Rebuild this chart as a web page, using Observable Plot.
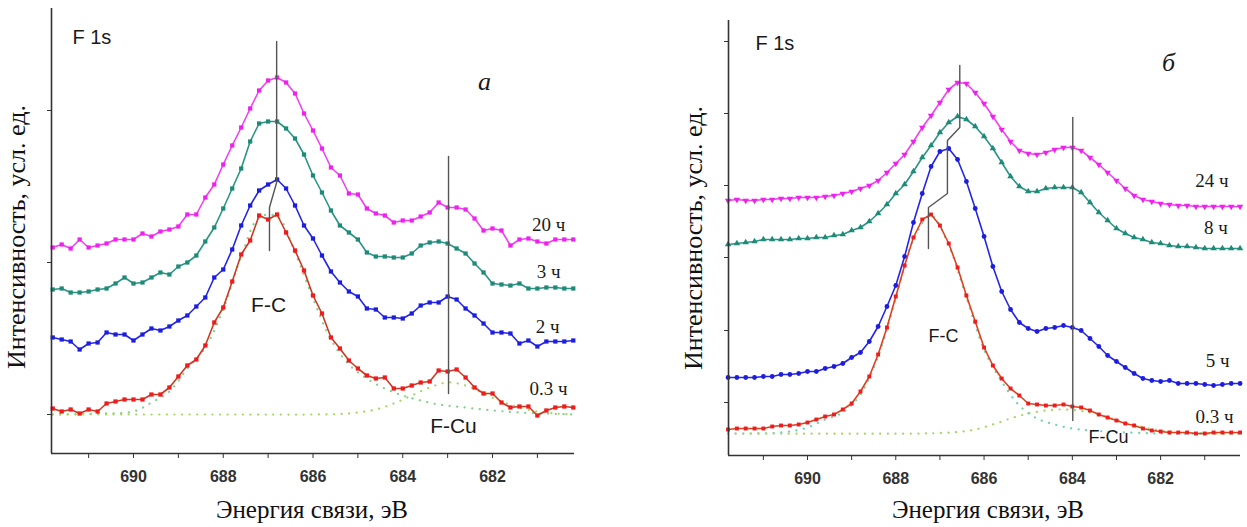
<!DOCTYPE html>
<html><head><meta charset="utf-8">
<script src="https://cdn.jsdelivr.net/npm/d3@7"></script>
<script src="https://cdn.jsdelivr.net/npm/@observablehq/plot@0.6"></script>
<style>
body{margin:0;background:#fff;}
#wrap{position:relative;width:1247px;height:527px;overflow:hidden;background:#fff;}
.panel{position:absolute;top:0;}
.xt{position:absolute;top:497px;font-family:"Liberation Serif","Times New Roman",serif;font-size:25px;line-height:25px;color:#111;white-space:nowrap;transform:translateX(-50%);}
.yt{position:absolute;font-family:"Liberation Serif","Times New Roman",serif;font-size:26px;line-height:26px;color:#111;white-space:nowrap;transform:translate(-50%,-50%) rotate(-90deg);}
</style>
</head><body>
<div id="wrap">
  <div class="panel" id="pa" style="left:0px"></div>
  <div class="panel" id="pb" style="left:623px"></div>
  <div class="yt" style="left:17px;top:237px">Интенсивность, усл. ед.</div>
  <div class="yt" style="left:694px;top:238px">Интенсивность, усл. ед.</div>
  <div class="xt" style="left:312px">Энергия связи, эВ</div>
  <div class="xt" style="left:988px">Энергия связи, эВ</div>
</div>
<script>
// Binding energy grid (eV)
const energy = [691.8,691.6,691.4,691.2,691.0,690.8,690.6,690.4,690.2,690.0,
  689.8,689.6,689.4,689.2,689.0,688.8,688.6,688.4,688.2,688.0,
  687.8,687.6,687.4,687.2,687.0,686.8,686.6,686.4,686.2,686.0,
  685.8,685.6,685.4,685.2,685.0,684.8,684.6,684.4,684.2,684.0,
  683.8,683.6,683.4,683.2,683.0,682.8,682.6,682.4,682.2,682.0,
  681.8,681.6,681.4,681.2,681.0,680.8,680.6,680.4,680.2];
const xTicks = [691,690,689,688,687,686,685,684,683,682,681];

// Panel а (arbitrary intensity units)
const a20h = [167,170,166,175,167,169,171,175,175,175, 181,178,183,185,188,200,200,217,230,250,
  269,287,306,324,334,337,332,321,301,284, 266,247,239,221,220,206,201,199,192,194,
  194,198,202,212,207,207,205,196,184,186, 184,169,175,176,173,171,175,175,175];
const a3h = [125,126,122,122,123,125,126,131,137,131, 132,137,142,140,148,152,159,173,187,206,
  226,246,273,291,293,293,286,276,260,239, 222,204,189,182,175,162,158,158,157,157,
  161,169,172,173,171,166,161,151,142,131, 130,129,131,126,126,127,127,126,126];
const a2h = [77,75,73,65,71,72,82,80,80,74, 80,86,84,88,94,99,108,117,137,145,
  165,189,209,224,230,235,226,209,189,176, 159,143,132,123,118,106,105,97,97,96,
  101,109,112,112,118,115,106,99,91,82, 82,81,71,74,68,73,73,73,74];
const a03h = [6,3,5,1,5,3,11,13,15,15, 15,20,20,27,38,49,55,69,92,107,
  133,160,174,199,195,200,182,164,144,119, 101,77,66,54,46,39,36,37,26,26,
  29,32,33,44,43,45,37,27,21,21, 12,7,8,8,-1,4,7,8,7];
const aFC_E = [691.8,690.8,690.0,689.6,689.2,688.8,688.4,688.0,687.6,687.2,686.8,686.4,686.0,685.6,685.2,684.8,684.4,684.0,683.6,683.2,682.8,682.2,681.4,680.2];
const aFC_v = [0,1,3,12,23,46,67,105,158,197,198,162,116,75,50,36,26,19,14,10,8,5,2,0];
const aFCu_E = [691.8,688.0,686.0,685.4,685.0,684.6,684.2,683.8,683.4,683.0,682.6,682.2,681.8,681.4,681.0,680.6,680.2];
const aFCu_v = [0,0,0,0.5,2,5,11,19,27,32,29,21,13,7,3,1,0];
const aYTicks = [0,152,304];
const aLabels = ["20 ч","3 ч","2 ч","0.3 ч"];

// Panel б
const b24h = [202,203,202,202,203,203,204,204,205,205, 205,206,207,209,211,214,217,222,230,239,
  248,261,275,287,300,313,320,319,310,299, 286,273,261,252,249,248,250,253,255,255,
  252,245,238,230,222,214,207,203,201,199, 198,197,197,196,196,196,196,196,196];
const b8h = [158,159,160,161,163,163,163,163,164,164, 165,165,167,168,172,175,181,189,198,209,
  218,231,245,257,270,280,286,283,276,266, 254,240,226,216,211,211,214,215,215,215,
  210,200,190,182,174,169,165,163,160,159, 157,156,156,155,154,154,154,154,154];
const b5h = [25,25,25,25,26,26,28,28,29,31, 31,34,36,39,45,50,61,76,96,117,
  146,180,209,236,251,254,243,221,194,166, 136,111,93,80,74,71,74,75,77,75,
  72,64,56,47,41,35,29,24,22,21, 22,19,19,19,18,17,18,19,19];
const b03h = [-27,-26,-26,-26,-26,-24,-23,-23,-22,-20, -17,-14,-12,-7,-1,11,26,48,75,106,
  137,165,183,188,177,159,135,107,81,55, 37,24,14,7,-1,-2,-3,-3,-2,-4,
  -5,-8,-12,-15,-18,-21,-23,-26,-28,-29, -30,-30,-30,-31,-31,-30,-30,-30,-30];
const bFC_E = [691.8,690.6,690.0,689.6,689.2,688.8,688.4,688.0,687.6,687.2,686.8,686.4,686.0,685.6,685.2,684.8,684.4,684.0,683.6,683.0,682.0,680.2];
const bFC_v = [-31,-30,-25,-17,-10,8,46,104,163,187,157,105,53,21,-3,-16,-22,-26,-28,-29.5,-31,-31];
const bFCu_E = [691.8,687.4,687.0,686.6,686.2,685.8,685.4,685.0,684.6,684.2,683.8,683.4,683.0,682.6,682.2,681.8,681.4,681.0,680.2];
const bFCu_v = [-31,-31,-30.5,-29.5,-27,-22,-16,-11,-8,-7,-8.5,-12,-17.5,-22.5,-26.5,-29,-30.5,-31,-31];
const bYTicks = [0,72,145,217,289,361];
const bLabels = ["24 ч","8 ч","5 ч","0.3 ч"];

const toRows = (vals) => vals.map((v,i) => ({E: energy[i], v}));
const pairs = (E, V) => E.map((e,i) => ({E: e, v: V[i]}));
const SANS = "Liberation Sans, Arial, sans-serif";
const SERIF = "Liberation Serif, Times New Roman, serif";
const txt = (x, y, t, o) => Plot.text([{x, y, t}], Object.assign({x:"x", y:"y", text:"t", fill:"#1a1a1a"}, o));

function panel(cfg) {
  const m = [];
  for (const c of cfg.comps) {
    m.push(Plot.line(c.data, {x:"E", y:"v", stroke:c.color, strokeWidth:2.2, strokeDasharray:"0.1,7.5", strokeLinecap:"round", curve:"catmull-rom"}));
  }
  for (const s of cfg.series) {
    const d = toRows(s.values);
    m.push(Plot.line(d, {x:"E", y:"v", stroke:s.line, strokeWidth:1.6}));
    m.push(Plot.dot(d, {x:"E", y:"v", fill:s.color, r:s.r, symbol:s.symbol, rotate:s.rotate || 0}));
  }
  for (const g of cfg.guides) {
    m.push(Plot.line(g, {x:"E", y:"v", stroke:"#555", strokeWidth:1.4}));
  }
  m.push(Plot.ruleX([cfg.xd[0]], {stroke:"#333", strokeWidth:1.6}));
  m.push(Plot.ruleY([cfg.yd[0]], {stroke:"#333", strokeWidth:1.6}));
  m.push(Plot.axisX({ticks:xTicks, tickSize:5, tickPadding:12, tickFormat:d => d % 2 === 0 ? String(d) : "",
    fontSize:16, fontWeight:"bold", fontFamily:SANS, label:null}));
  m.push(Plot.axisY({ticks:cfg.yTicks, tickSize:4, tickFormat:() => "", label:null}));
  for (const t of cfg.texts) m.push(t);
  return Plot.plot({
    width:cfg.width, height:527,
    marginLeft:cfg.ml, marginRight:cfg.mr, marginTop:cfg.mt, marginBottom:cfg.mb,
    x:{domain:cfg.xd}, y:{domain:cfg.yd},
    style:{fontFamily:SANS, color:"#333", background:"transparent", overflow:"visible"},
    marks:m
  });
}

const pa = panel({
  width:623, ml:51, mr:49, mt:8, mb:74,
  xd:[691.827, 680.173], yd:[-39, 406], yTicks:aYTicks,
  comps:[
    {data:pairs(aFC_E, aFC_v), color:"#7fd08a"},
    {data:pairs(aFCu_E, aFCu_v), color:"#a6d65c"}
  ],
  series:[
    {values:a20h, color:"#ee22ee", line:"#f040f0", r:2.4, symbol:"square"},
    {values:a3h, color:"#1f8a78", line:"#2a9585", r:2.4, symbol:"square"},
    {values:a2h, color:"#1d1de0", line:"#2525e8", r:2.4, symbol:"square"},
    {values:a03h, color:"#ee1c1c", line:"#cc3a22", r:2.4, symbol:"square"}
  ],
  guides:[
    [{E:686.81,v:373},{E:686.81,v:232},{E:686.97,v:207},{E:686.97,v:164}],
    [{E:682.98,v:258},{E:682.98,v:21}]
  ],
  texts:[
    txt(691.36, 377, "F 1s", {fontFamily:SANS, fontSize:20, textAnchor:"start"}),
    txt(682.18, 333, "а", {fontFamily:SERIF, fontSize:26, fontStyle:"italic"}),
    txt(680.75, 190, aLabels[0], {fontFamily:SERIF, fontSize:19}),
    txt(680.75, 143, aLabels[1], {fontFamily:SERIF, fontSize:19}),
    txt(680.77, 88, aLabels[2], {fontFamily:SERIF, fontSize:19}),
    txt(680.75, 26, aLabels[3], {fontFamily:SERIF, fontSize:19}),
    txt(686.99, 109, "F-C", {fontFamily:SANS, fontSize:21}),
    txt(682.87, -12, "F-Cu", {fontFamily:SANS, fontSize:21})
  ]
});
document.getElementById("pa").appendChild(pa);

const pb = panel({
  width:624, ml:105, mr:7, mt:20, mb:72,
  xd:[691.79, 680.19], yd:[-53, 382], yTicks:bYTicks,
  comps:[
    {data:pairs(bFC_E, bFC_v), color:"#6fd0b0"},
    {data:pairs(bFCu_E, bFCu_v), color:"#a6d65c"}
  ],
  series:[
    {values:b24h, color:"#ee22ee", line:"#f040f0", r:2.4, symbol:"triangle", rotate:180},
    {values:b8h, color:"#1f8a78", line:"#2a9585", r:2.4, symbol:"triangle"},
    {values:b5h, color:"#1d1de0", line:"#2525e8", r:2.4, symbol:"circle"},
    {values:b03h, color:"#ee1c1c", line:"#e0401e", r:2.2, symbol:"square"}
  ],
  guides:[
    [{E:686.55,v:337},{E:686.55,v:275},{E:686.83,v:262},{E:686.83,v:209},{E:687.26,v:195},{E:687.26,v:154}],
    [{E:683.99,v:285},{E:683.99,v:-18}]
  ],
  texts:[
    txt(691.18, 359, "F 1s", {fontFamily:SANS, fontSize:20, textAnchor:"start"}),
    txt(681.82, 340, "б", {fontFamily:SERIF, fontSize:26, fontStyle:"italic"}),
    txt(680.84, 222, bLabels[0], {fontFamily:SERIF, fontSize:19}),
    txt(680.75, 175, bLabels[1], {fontFamily:SERIF, fontSize:19}),
    txt(680.71, 42, bLabels[2], {fontFamily:SERIF, fontSize:19}),
    txt(680.78, -14, bLabels[3], {fontFamily:SERIF, fontSize:19}),
    txt(686.92, 66, "F-C", {fontFamily:SANS, fontSize:18}),
    txt(683.18, -35, "F-Cu", {fontFamily:SANS, fontSize:18})
  ]
});
document.getElementById("pb").appendChild(pb);
</script>
</body></html>
